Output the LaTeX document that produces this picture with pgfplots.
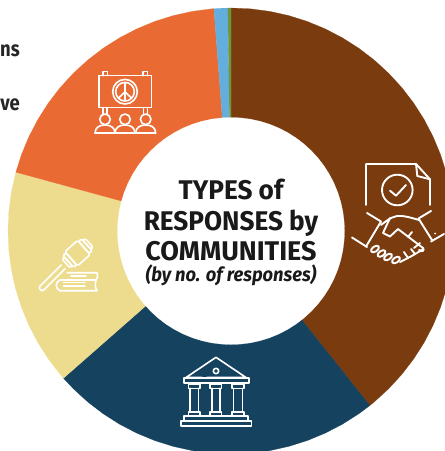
\documentclass[border=0pt]{standalone}
\usepackage{pgfplots}
\pgfplotsset{compat=1.18}
\usepgfplotslibrary{polar}
\usepackage{fontspec}
\setmainfont{Fira Sans}[FakeStretch=0.86]
\newfontfamily\titlefont{Fira Sans}[FakeStretch=0.97]
\newfontfamily\subfont{Fira Sans}[FakeStretch=0.94]
\newfontfamily\commfont{Fira Sans}[FakeStretch=1.0]
\definecolor{cbrown}{HTML}{7A3B0F}
\definecolor{cnavy}{HTML}{15435F}
\definecolor{cyellow}{HTML}{EDDC8E}
\definecolor{corange}{HTML}{E96B33}
\definecolor{cblue}{HTML}{63AEDD}
\definecolor{cgreen}{HTML}{6E963A}
\begin{document}
\begin{tikzpicture}[x=1bp,y=-1bp]
\useasboundingbox (0,0) rectangle (445,451);
\clip (0,0) rectangle (445,451);
\begin{polaraxis}[at={(231bp,-231bp)},anchor=center,scale only axis,width=446bp,height=446bp,
  xmin=0,xmax=360,ymin=0,ymax=223,hide axis,clip=false]
% brown
\addplot[fill=cbrown,draw=cbrown,line width=0.2pt] coordinates {(90,0)(90,223)(85,223)(80,223)(75,223)(70,223)(65,223)(60,223)(55,223)(50,223)(45,223)(40,223)(35,223)(30,223)(25,223)(20,223)(15,223)(10,223)(5,223)(0,223)(-5,223)(-10,223)(-15,223)(-20,223)(-25,223)(-30,223)(-35,223)(-40,223)(-45,223)(-50,223)(-51.5,223)(-51.5,0)} \closedcycle;
% navy
\addplot[fill=cnavy,draw=cnavy,line width=0.2pt] coordinates {(308.5,0)(308.5,223)(305,223)(300,223)(295,223)(290,223)(285,223)(280,223)(275,223)(270,223)(265,223)(260,223)(255,223)(250,223)(245,223)(240,223)(235,223)(230,223)(225,223)(221.3,223)(221.3,0)} \closedcycle;
% yellow
\addplot[fill=cyellow,draw=cyellow,line width=0.2pt] coordinates {(221.3,0)(221.3,223)(220,223)(215,223)(210,223)(205,223)(200,223)(195,223)(190,223)(185,223)(180,223)(175,223)(170,223)(165,223)(164.7,223)(164.7,0)} \closedcycle;
% orange
\addplot[fill=corange,draw=corange,line width=0.2pt] coordinates {(164.7,0)(164.7,223)(160,223)(155,223)(150,223)(145,223)(140,223)(135,223)(130,223)(125,223)(120,223)(115,223)(110,223)(105,223)(100,223)(95,223)(94.4,223)(94.4,0)} \closedcycle;
% blue
\addplot[fill=cblue,draw=cblue,line width=0.1pt] coordinates {(94.4,0)(94.4,223)(92,223)(90.8,223)(90.8,0)} \closedcycle;
% green
\addplot[fill=cgreen,draw=cgreen,line width=0.1pt] coordinates {(90.8,0)(90.8,223)(90,223)(90,0)} \closedcycle;
% hole
\addplot[fill=white,draw=white,line width=0.2pt] coordinates {(0,113.5)(5,113.5)(10,113.5)(15,113.5)(20,113.5)(25,113.5)(30,113.5)(35,113.5)(40,113.5)(45,113.5)(50,113.5)(55,113.5)(60,113.5)(65,113.5)(70,113.5)(75,113.5)(80,113.5)(85,113.5)(90,113.5)(95,113.5)(100,113.5)(105,113.5)(110,113.5)(115,113.5)(120,113.5)(125,113.5)(130,113.5)(135,113.5)(140,113.5)(145,113.5)(150,113.5)(155,113.5)(160,113.5)(165,113.5)(170,113.5)(175,113.5)(180,113.5)(185,113.5)(190,113.5)(195,113.5)(200,113.5)(205,113.5)(210,113.5)(215,113.5)(220,113.5)(225,113.5)(230,113.5)(235,113.5)(240,113.5)(245,113.5)(250,113.5)(255,113.5)(260,113.5)(265,113.5)(270,113.5)(275,113.5)(280,113.5)(285,113.5)(290,113.5)(295,113.5)(300,113.5)(305,113.5)(310,113.5)(315,113.5)(320,113.5)(325,113.5)(330,113.5)(335,113.5)(340,113.5)(345,113.5)(350,113.5)(355,113.5)(360,113.5)} \closedcycle;
\end{polaraxis}
% centre title
\node[font=\titlefont\bfseries\fontsize{27bp}{27bp}\selectfont,text=black!90,anchor=base] at (231,200) {TYPES of};
\node[font=\titlefont\bfseries\fontsize{27bp}{27bp}\selectfont,text=black!90,anchor=base] at (231,230) {RESPONSES by};
\node[font=\commfont\bfseries\fontsize{27bp}{27bp}\selectfont,text=black!90,anchor=base] at (231,260) {COMMUNITIES};
\node[font=\subfont\bfseries\itshape\fontsize{19.5bp}{19.5bp}\selectfont,text=black!90,anchor=base] at (231,281.7) {(by no. of responses)};
% cropped labels
\node[font=\bfseries\fontsize{21.5bp}{21.5bp}\selectfont,text=black!85,anchor=base east,inner sep=0pt] at (20,57) {ns};
\node[font=\bfseries\fontsize{21.5bp}{21.5bp}\selectfont,text=black!85,anchor=base east,inner sep=0pt] at (20,110.5) {ve};
% sign icon
\begin{scope}[white,line width=1.6bp,line join=round,line cap=round]
\draw (99,75.7) rectangle (151.3,107.7);
\draw (102.7,75.7) -- (102.7,71.5) -- (107.3,71.5) -- (107.3,75.7);
\draw (142.7,75.7) -- (142.7,71.5) -- (147.3,71.5) -- (147.3,75.7);
\draw (125,91.7) circle (12.3);
\draw (125,91.7) circle (9.3);
\draw (125,82.7) -- (125,100.7) (125,91.7) -- (118.6,98) (125,91.7) -- (131.4,98);
\draw (103,107.7) -- (103,114) (107,107.7) -- (107,114);
\draw (143.5,107.7) -- (143.5,114) (147.5,107.7) -- (147.5,114);
\foreach \c in {105,125,145.7}{
  \draw (\c,119.3) circle (5.3);
  \draw (\c-10,133.3) .. controls (\c-10,127) and (\c-5,125) .. (\c,125) .. controls (\c+5,125) and (\c+10,127) .. (\c+10,133.3);
}
\draw (95,133.3) -- (155.7,133.3);
\end{scope}
% document + handshake icon
\begin{scope}[white,line width=1.9bp,line join=round,line cap=round]
\draw (366,205) -- (366,164) -- (416,164) -- (430,179.3) -- (430,205);
\draw (416,164) -- (417.3,176) -- (430,179.3);
\draw (397.3,190) circle (15.3);
\draw (390,190.7) -- (396,195.7) -- (406,185);
\draw (367,213) -- (381,221.5) -- (366,246.5);
\draw (352,237.5) -- (367,247);
\draw (431,211) -- (418.5,218.5) -- (432,240);
\draw (444,234) -- (431,241.5);
\draw (381,225) .. controls (390,218) and (395,215) .. (402,216) .. controls (410,217) and (415,219) .. (419,220);
\draw (390,218) -- (383,233) -- (390,236.5) -- (398,229) -- (423,248) .. controls (425,250) and (422,253) .. (419,250);
\draw (412,232) -- (408,237) (420,243) -- (414,248);
\foreach \a/\b in {375/249,381.5/253.5,388/257,396/260}{
  \draw[rotate around={35:(\a,\b)}] (\a,\b) ellipse (4.5 and 2.6);
}
\draw (400,262) .. controls (408,258) and (416,254) .. (423,249);
\draw (404,252) -- (408,258) (411,249) -- (415,254);
\fill[white] (435,233.5) circle (1);
\end{scope}
% bank icon
\begin{scope}[white,line width=1.6bp,line join=round,line cap=round]
\draw (202,377.5) -- (186,377.5) -- (216,357.3) -- (246,377.5) -- (207,377.5);
\draw (216,371) circle (2.7);
\draw (184,377.7) rectangle (249,382.7);
\foreach \l/\r in {190/198.3,211.7/220,233.5/242.5}{
  \draw (\l-1.5,384) rectangle (\r+1.5,388.3);
  \draw (\l,388.3) -- (\l,411.7) (\r,388.3) -- (\r,411.7);
  \draw (\l-1.5,411.7) rectangle (\r+1.5,416);
}
\draw (184,416) rectangle (248,421);
\draw (181,421) rectangle (251.5,426);
\end{scope}
% gavel icon
\begin{scope}[white,line width=1.6bp,line join=round,line cap=round]
\draw (61.3,265) -- (40,286.3) .. controls (38,288.5) and (41.5,292) .. (43.7,290) -- (65,268.7);
\begin{scope}[rotate around={42:(77.7,253)}]
\draw[rounded corners=1.5] (69,243.5) rectangle (86,262.5);
\draw[rounded corners=1.5] (65,245) rectangle (69,261);
\draw[rounded corners=1.5] (86,245) rectangle (90,261);
\draw[rounded corners=1.5] (90,247) rectangle (93,259);
\draw[rounded corners=1.5] (62,247) rectangle (65,259);
\end{scope}
\draw (67,272.7) -- (97,272.7) .. controls (98,275) and (98,278) .. (96,280) -- (60,280) .. controls (55,282) and (55,289) .. (60,290.7) -- (97,290.7);
\draw (97,290.7) .. controls (95,287) and (95,284) .. (96,280);
\draw (63.5,282.5) -- (85,282.5) (63.5,286) -- (85,286) (71,276) -- (86,276);
\end{scope}
\end{tikzpicture}
\end{document}
